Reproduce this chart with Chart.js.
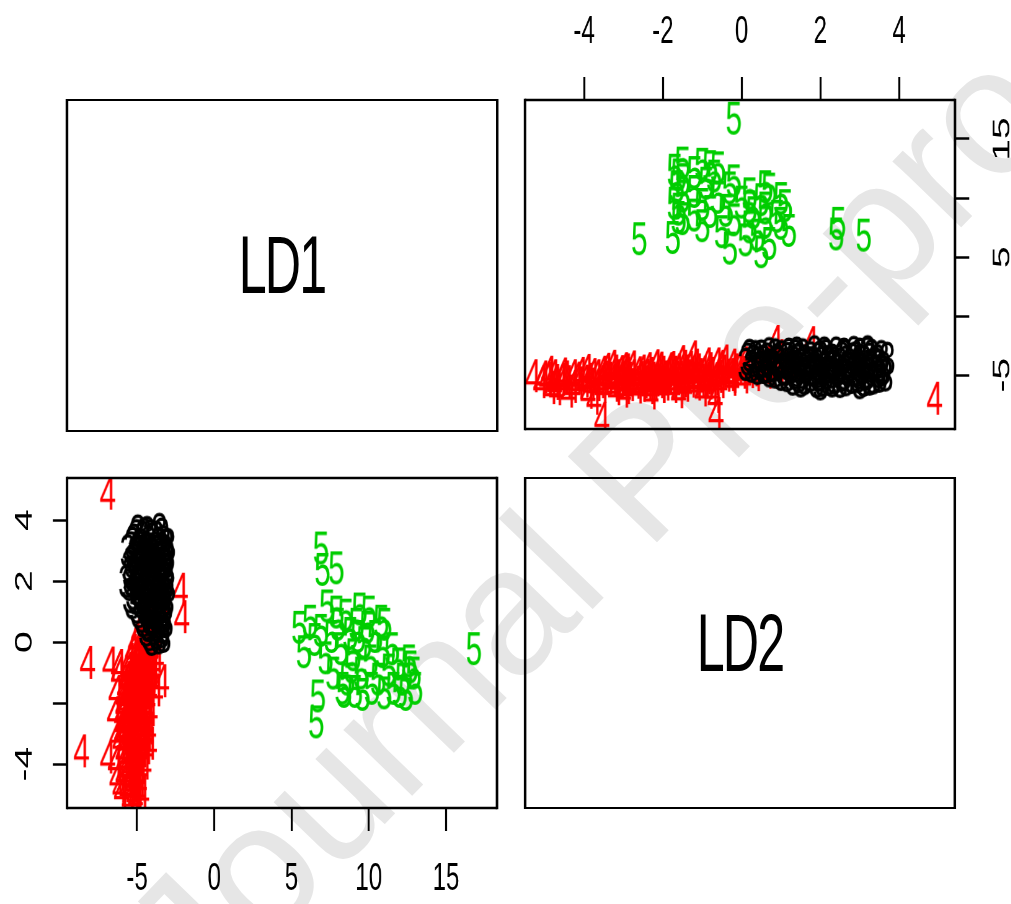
<!DOCTYPE html>
<html><head><meta charset="utf-8">
<script src="https://cdn.jsdelivr.net/npm/chart.js@4.4.0/dist/chart.umd.min.js"></script>
<style>
html,body{margin:0;padding:0;background:#fff;overflow:hidden;width:1011px;height:904px;position:relative;}
#wm{position:absolute;left:0;top:0;width:1011px;height:904px;overflow:hidden;z-index:0;}
#wm span{position:absolute;left:640px;top:470px;white-space:nowrap;font-family:'Liberation Sans',Arial,sans-serif;font-size:180px;color:#e6e6e6;transform:translate(-50%,-50%) rotate(-46deg);}
#wrap{position:absolute;left:0;top:0;width:1631px;height:904px;transform:scaleX(0.62);transform-origin:0 0;z-index:1;}
#wrap canvas{position:absolute;}
.diag{position:absolute;box-sizing:border-box;border-style:solid;border-color:#000;border-width:2.5px 4px;display:flex;align-items:center;justify-content:center;font-family:'Liberation Sans',Arial,sans-serif;font-size:81px;letter-spacing:-3px;color:#000;line-height:1;}
</style></head>
<body>
<div id="wm"><span>Journal Pre-proof</span></div>
<div id="wrap">
  <div class="diag" style="left:106.1px;top:98.75px;width:697.5px;height:333.5px;">LD1</div>
  <div class="diag" style="left:844.8px;top:476.75px;width:697.5px;height:332.5px;">LD2</div>
  <canvas id="tr" width="811" height="440" style="left:820px;top:0px;"></canvas>
  <canvas id="bl" width="830" height="464" style="left:0px;top:440px;"></canvas>
</div>
<script>
// ---- data (LD1, LD2 per group) ----
const groupLabels = ['3', '4', '5'];
const groupColors = ['#000000', '#ff0000', '#00cd00'];

const ld1_g3 = [-4.95,-4.35,-3.55, -5.2,-4.65,-4.0,-3.3, -5.4,-4.9,-4.4,-3.8,-3.2, -5.15,-4.6,-4.1,-3.6,-3.05,
  -5.5,-5.0,-4.5,-4.0,-3.5,-3.1, -5.3,-4.8,-4.3,-3.8,-3.3, -5.5,-5.0,-4.55,-4.05,-3.55,-3.0, -5.25,-4.75,-4.25,-3.75,-3.25,
  -5.3,-4.8,-4.3,-3.8,-3.3, -4.9,-4.4,-3.9,-3.4, -4.6,-4.1,-3.6,-3.15, -4.4,-3.9,-3.4, -4.05,-3.6,
  -5.1,-4.6,-4.1,-3.5, -5.2,-4.7,-4.2,-3.7, -5.0,-4.5,-4.0,-3.5, -5.0,-4.5,-4.0,-3.55, -4.3,-3.8,-3.35, -5.6,-5.7,-3.0,
  -5.05,-4.55,-4.15,-3.75,-3.4, -5.3,-4.75,-4.25,-3.6,-3.1, -5.35,-4.85,-4.35,-3.85,-3.3, -5.4,-4.9,-4.4,-3.9,-3.4,-3.1,
  -5.1,-4.6,-4.1,-3.6,-3.1, -4.7,-4.2,-3.7,-3.25, -4.2,-3.75,-3.3,
  -4.45,-3.95,-4.65,-4.2,-3.7,-4.8,-4.3,-3.9,-5.45,-5.45,-3.2,-3.2];
const ld2_g3 = [3.65,3.6,3.7, 3.35,3.45,3.4,3.3, 3.1,3.15,3.05,3.1,3.0, 2.8,2.85,2.75,2.8,2.85,
  2.5,2.55,2.45,2.5,2.55,2.4, 2.2,2.15,2.25,2.2,2.15, 1.9,1.95,1.85,1.9,1.95,1.85, 1.6,1.55,1.65,1.6,1.55,
  1.3,1.35,1.25,1.3,1.35, 1.0,1.05,0.95,1.0, 0.7,0.75,0.65,0.7, 0.4,0.45,0.35, 0.1,0.15,
  2.95,2.95,2.95,2.9, 2.35,2.3,2.35,2.3, 1.75,1.75,1.7,1.75, 1.15,1.1,1.15,1.15, 0.55,0.55,0.5, 3.0,2.0,3.2,
  3.5,3.55,3.5,3.45,3.55, 3.25,3.2,3.3,3.25,3.2, 2.65,2.6,2.7,2.65,2.6, 2.05,2.0,2.1,2.05,2.0,2.1,
  1.45,1.4,1.5,1.45,1.4, 0.85,0.8,0.9,0.85, 0.25,0.3,0.2,
  2.7,2.35,1.95,1.4,3.0,3.0,0.6,1.8,2.3,1.5,2.6,1.2];

const ld1_g4 = [-4.45,-4.15, -4.7,-4.3,-3.95, -4.9,-4.5,-4.1, -5.1,-4.7,-4.3,-3.9, -5.3,-4.9,-4.5,-4.1,
  -5.5,-5.05,-4.6,-4.2, -5.6,-5.2,-4.8,-4.4,-4.0, -5.7,-5.3,-4.9,-4.5,-4.1, -5.8,-5.4,-5.0,-4.6,-4.2,
  -5.9,-5.5,-5.1,-4.7,-4.3, -5.9,-5.5,-5.1,-4.7,-4.35, -6.0,-5.6,-5.2,-4.8,-4.4, -5.95,-5.55,-5.15,-4.75,
  -6.0,-5.6,-5.2,-4.8,-4.4, -5.8,-5.4,-5.0,-4.6, -5.9,-5.5,-5.1,-4.7, -5.7,-5.3,-4.9, -5.6,-5.2,-4.8,
  -5.5,-5.1, -5.4,-5.0,
  -4.35,-4.05,-4.2,-4.55,-3.85,-4.65,-4.35,-4.95,-4.0,-5.25,-4.7,-5.45,-4.3,-5.1,-4.5,-5.7,-4.9,-4.15,-5.35,-5.8,
  -4.6,-5.0,-4.25,-5.45,-4.65,-6.1,-5.2,-4.45,-5.75,-5.0,-4.55,-5.45,-5.9,-5.0,-5.3,-4.85,-5.65,-5.2,-4.7,
  -5.75,-4.95,-5.25,-5.6,-4.85,-5.45,-5.05,-5.7,-4.5,-5.9,-4.4,-5.15,-5.5,-4.75,-5.35,
  -6.35,-6.45,-6.3,-6.4,-6.2,-6.3,-3.75,-3.8,
  -6.9,-2.2,-2.1,-8.2,-6.75,-6.2,-3.4,-8.6,-6.9,-4.2,-6.0,-5.1,-5.0,-5.5,-6.1,-3.3];
const ld2_g4 = [0.95,0.9, 0.65,0.6,0.7, 0.35,0.3,0.4, 0.05,0.0,0.1,0.05, -0.25,-0.3,-0.2,-0.25,
  -0.55,-0.6,-0.5,-0.55, -0.85,-0.9,-0.8,-0.85,-0.9, -1.15,-1.2,-1.1,-1.15,-1.2, -1.45,-1.5,-1.4,-1.45,-1.5,
  -1.75,-1.8,-1.7,-1.75,-1.8, -2.05,-2.1,-2.0,-2.05,-2.1, -2.35,-2.4,-2.3,-2.35,-2.4, -2.65,-2.7,-2.6,-2.65,
  -2.95,-3.0,-2.9,-2.95,-3.0, -3.25,-3.3,-3.2,-3.25, -3.55,-3.6,-3.5,-3.55, -3.85,-3.9,-3.8, -4.15,-4.2,-4.1,
  -4.45,-4.5, -4.75,-4.8,
  1.2,1.35,1.05,0.75,0.45,0.2,-0.1,-0.4,-0.65,-0.7,-1.0,-1.3,-1.35,-1.6,-1.65,-1.95,-1.9,-2.2,-2.2,-2.55,
  -2.55,-2.8,-2.8,-3.1,-3.1,-3.2,-3.4,-3.45,-3.7,-3.7,-3.95,-4.0,-4.3,-4.3,-4.6,-4.55,-4.75,-4.95,-4.9,
  -2.85,-2.45,-1.95,-1.55,-1.3,-0.95,-0.25,-2.25,-2.95,-2.05,-1.85,-3.05,-2.5,-2.15,-1.05,
  -1.6,-2.3,-3.0,-3.9,-1.0,-4.4,-0.45,-1.55,
  4.9,1.75,0.85,-0.65,-0.67,-0.75,-1.25,-3.55,-3.75,-3.3,-4.85,-5.05,-5.3,-5.1,-4.7,0.95];

const ld1_g5 = [16.8,6.6,6.7,6.9,7.0,7.9, 5.5,5.8,6.2,6.5,6.9,7.3,7.6,7.2,8.0,8.2, 8.5,8.8,9.0,9.2,9.4,9.5,9.7,9.9,10.1,
  8.6,9.1,9.6,8.3,10.4,10.6,10.8,10.9,11.0,11.3,11.6,11.9,12.2,12.6,12.9,12.4, 9.3,8.9,10.2,7.7,11.5,13.0,12.0,10.0,8.4,12.7,11.0,7.9];
const ld2_g5 = [-0.2,-2.6,-1.75,3.1,2.4,2.45, 0.5,-0.3,0.7,0.1,0.4,1.2,0.2,-0.5,0.6,-0.2, 0.9,0.3,-0.4,0.6,1.1,-1.0,0.0,0.5,-0.6,
  -1.2,-1.6,-1.7,-1.5,0.2,-1.2,0.7,-0.3,-1.65,-0.9,-1.5,-0.7,-1.2,-0.6,-1.0,-1.7, 0.2,-0.8,-1.5,-1.0,-0.2,-1.5,-1.6,1.0,-1.6,-0.8,0.6,1.0];

// axis ticks
const ld1Ticks = [-5, 0, 5, 10, 15];
const ld2Ticks = [-4, -2, 0, 2, 4];
const ld1BottomLabels = ['-5', '0', '5', '10', '15'];
const ld2LeftLabels = ['-4', '', '0', '2', '4'];
const ld2TopLabels = ['-4', '-2', '0', '2', '4'];
const ld1RightLabels = ['-5', '', '5', '', '15'];

const LD1_RANGE = [-9.53, 18.3];
const LD2_RANGE_BL = [-5.44, 5.38];
const LD2_RANGE_TR = [-5.5, 5.42];

// ---- rendering ----
const S = 0.62;
const FONT = "'Liberation Sans', Arial, Helvetica, sans-serif";

function marker(txt, color) {
  const c = document.createElement('canvas');
  c.width = 40; c.height = 52;
  const x = c.getContext('2d');
  x.fillStyle = color;
  x.font = '48px ' + FONT;
  x.textAlign = 'center';
  x.textBaseline = 'alphabetic';
  x.fillText(txt, 20, 26 + 17.2);
  return c;
}
const markers = groupLabels.map((l, i) => marker(l, groupColors[i]));
const g1 = [ld1_g3, ld1_g4, ld1_g5];
const g2 = [ld2_g3, ld2_g4, ld2_g5];

function datasets(swap) {
  return groupLabels.map((lab, i) => ({
    label: lab,
    data: g1[i].map((v, k) => swap ? { x: g2[i][k], y: v } : { x: v, y: g2[i][k] }),
    pointStyle: markers[i],
    pointRadius: 10,
    showLine: false,
    clip: 0
  }));
}

const boxPlugin = {
  id: 'box',
  afterDraw(chart) {
    const { ctx, chartArea: a } = chart;
    ctx.save();
    ctx.strokeStyle = '#000';
    ctx.lineWidth = 2.5;
    ctx.beginPath();
    ctx.moveTo(a.left, a.top); ctx.lineTo(a.right, a.top);
    ctx.moveTo(a.left, a.bottom); ctx.lineTo(a.right, a.bottom);
    ctx.stroke();
    ctx.lineWidth = 2.5 / S;
    ctx.beginPath();
    ctx.moveTo(a.left, a.top - 1.25); ctx.lineTo(a.left, a.bottom + 1.25);
    ctx.moveTo(a.right, a.top - 1.25); ctx.lineTo(a.right, a.bottom + 1.25);
    ctx.stroke();
    ctx.restore();
  }
};

function rotLabels(scaleId, vals, labels, xPos) {
  return {
    id: 'rot_' + scaleId,
    afterDraw(chart) {
      const sc = chart.scales[scaleId];
      const ctx = chart.ctx;
      ctx.save();
      ctx.fillStyle = '#000';
      ctx.font = '39px ' + FONT;
      ctx.textAlign = 'center';
      ctx.textBaseline = 'alphabetic';
      vals.forEach((v, i) => {
        if (!labels[i]) return;
        const y = sc.getPixelForValue(v);
        ctx.save();
        ctx.translate(xPos, y);
        ctx.rotate(-Math.PI / 2);
        ctx.fillText(labels[i], 0, 14);
        ctx.restore();
      });
      ctx.restore();
    }
  };
}

function setTicks(vals) { return s => { s.ticks = vals.map(v => ({ value: v })); }; }

// bottom-left: x = LD1, y = LD2
new Chart(document.getElementById('bl'), {
  type: 'scatter',
  data: { datasets: datasets(false) },
  options: {
    responsive: false, animation: false, devicePixelRatio: 1, events: [],
    layout: { padding: { left: 0, right: 28.4, top: 38, bottom: 0 } },
    plugins: { legend: { display: false }, tooltip: { enabled: false } },
    scales: {
      x: {
        type: 'linear', position: 'bottom', bounds: 'data',
        min: LD1_RANGE[0], max: LD1_RANGE[1],
        afterBuildTicks: setTicks(ld1Ticks),
        afterFit: s => { s.height = 96; },
        grid: { drawOnChartArea: false, drawTicks: true, tickLength: 23, tickWidth: 2 / S, tickColor: '#000' },
        border: { display: false },
        ticks: { color: '#000', font: { family: FONT, size: 39 }, padding: 24.6, minRotation: 0, maxRotation: 0, autoSkip: false,
          callback: (v, i) => ld1BottomLabels[i] }
      },
      y: {
        type: 'linear', position: 'left', bounds: 'data',
        min: LD2_RANGE_BL[0], max: LD2_RANGE_BL[1],
        afterBuildTicks: setTicks(ld2Ticks),
        afterFit: s => { s.width = 108.1; },
        grid: { drawOnChartArea: false, drawTicks: true, tickLength: 23, tickWidth: 2.5, tickColor: '#000' },
        border: { display: false },
        ticks: { display: false }
      }
    }
  },
  plugins: [boxPlugin, rotLabels('y', ld2Ticks, ld2LeftLabels, 37.1)]
});

// top-right: x = LD2, y = LD1
new Chart(document.getElementById('tr'), {
  type: 'scatter',
  data: { datasets: datasets(true) },
  options: {
    responsive: false, animation: false, devicePixelRatio: 1, events: [],
    layout: { padding: { left: 26.8, right: 0, top: 0, bottom: 9 } },
    plugins: { legend: { display: false }, tooltip: { enabled: false } },
    scales: {
      x: {
        type: 'linear', position: 'top', bounds: 'data',
        min: LD2_RANGE_TR[0], max: LD2_RANGE_TR[1],
        afterBuildTicks: setTicks(ld2Ticks),
        afterFit: s => { s.height = 100; },
        grid: { drawOnChartArea: false, drawTicks: true, tickLength: 23, tickWidth: 2 / S, tickColor: '#000' },
        border: { display: false },
        ticks: { color: '#000', font: { family: FONT, size: 39 }, padding: 21.6, minRotation: 0, maxRotation: 0, autoSkip: false,
          callback: (v, i) => ld2TopLabels[i] }
      },
      y: {
        type: 'linear', position: 'right', bounds: 'data',
        min: LD1_RANGE[0] - 0.02, max: LD1_RANGE[1],
        afterBuildTicks: setTicks(ld1Ticks),
        afterFit: s => { s.width = 90.7; },
        grid: { drawOnChartArea: false, drawTicks: true, tickLength: 23, tickWidth: 2.5, tickColor: '#000' },
        border: { display: false },
        ticks: { display: false }
      }
    }
  },
  plugins: [boxPlugin, rotLabels('y', ld1Ticks, ld1RightLabels, 793.7)]
});
</script>
</body></html>
